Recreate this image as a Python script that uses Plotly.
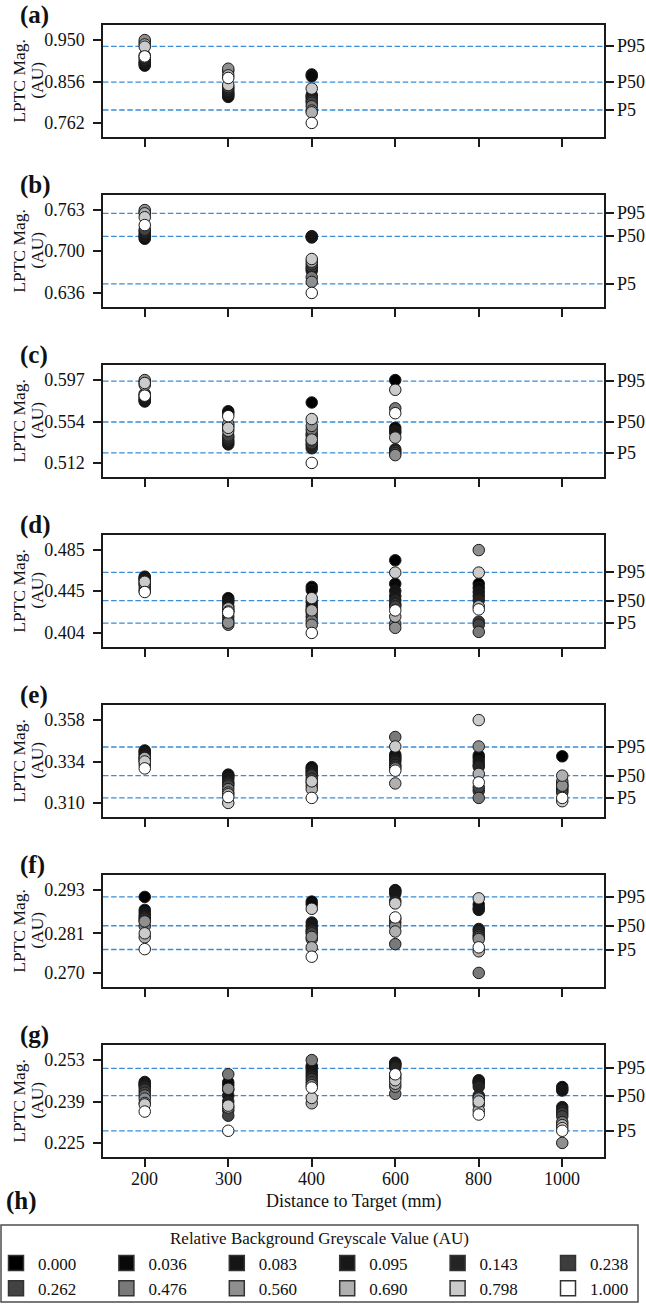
import plotly.graph_objects as go

W, H = 646, 1305

# ---------------- data ----------------
distances = ['200', '300', '400', '600', '800', '1000']
grey_levels = [0.000, 0.036, 0.083, 0.095, 0.143, 0.238,
               0.262, 0.476, 0.560, 0.690, 0.798, 1.000]
panel_letters = ['(a)', '(b)', '(c)', '(d)', '(e)', '(f)', '(g)']

# LPTC magnitude per distance, one value per grey level (order of grey_levels)
mag_a = {
    '200': [0.892, 0.895, 0.898, 0.900, 0.905, 0.910, 0.915, 0.945, 0.950, 0.940, 0.935, 0.913],
    '300': [0.821, 0.824, 0.828, 0.830, 0.835, 0.840, 0.843, 0.880, 0.885, 0.870, 0.848, 0.864],
    '400': [0.872, 0.868, 0.825, 0.822, 0.818, 0.812, 0.808, 0.800, 0.790, 0.786, 0.840, 0.762],
}
mag_b = {
    '200': [0.719, 0.721, 0.723, 0.725, 0.728, 0.731, 0.733, 0.760, 0.763, 0.758, 0.752, 0.740],
    '400': [0.723, 0.722, 0.721, 0.670, 0.673, 0.676, 0.680, 0.660, 0.653, 0.684, 0.688, 0.636],
}
mag_c = {
    '200': [0.575, 0.576, 0.577, 0.578, 0.580, 0.582, 0.583, 0.595, 0.597, 0.592, 0.594, 0.581],
    '300': [0.565, 0.563, 0.531, 0.533, 0.535, 0.538, 0.540, 0.550, 0.552, 0.545, 0.548, 0.560],
    '400': [0.574, 0.540, 0.535, 0.530, 0.527, 0.532, 0.542, 0.546, 0.550, 0.536, 0.557, 0.512],
    '600': [0.597, 0.548, 0.545, 0.543, 0.526, 0.524, 0.522, 0.568, 0.520, 0.538, 0.587, 0.563],
}
mag_d = {
    '200': [0.459, 0.458, 0.457, 0.456, 0.455, 0.452, 0.450, 0.447, 0.445, 0.452, 0.454, 0.444],
    '300': [0.438, 0.436, 0.434, 0.430, 0.426, 0.420, 0.416, 0.412, 0.414, 0.428, 0.425, 0.424],
    '400': [0.449, 0.446, 0.434, 0.430, 0.427, 0.424, 0.420, 0.416, 0.412, 0.426, 0.438, 0.404],
    '600': [0.475, 0.452, 0.445, 0.440, 0.436, 0.432, 0.430, 0.413, 0.409, 0.420, 0.463, 0.426],
    '800': [0.452, 0.448, 0.444, 0.440, 0.436, 0.415, 0.412, 0.405, 0.485, 0.430, 0.463, 0.427],
}
mag_e = {
    '200': [0.3404, 0.3398, 0.3390, 0.3380, 0.3370, 0.3360, 0.3350, 0.3340, 0.3320, 0.3360, 0.3340, 0.3300],
    '300': [0.3264, 0.3260, 0.3250, 0.3240, 0.3220, 0.3210, 0.3200, 0.3180, 0.3160, 0.3150, 0.3100, 0.3134],
    '400': [0.3307, 0.3300, 0.3290, 0.3280, 0.3270, 0.3260, 0.3240, 0.3220, 0.3200, 0.3180, 0.3225, 0.3129],
    '600': [0.3380, 0.3370, 0.3360, 0.3350, 0.3340, 0.3320, 0.3310, 0.3482, 0.3300, 0.3213, 0.3427, 0.3287],
    '800': [0.3375, 0.3360, 0.3340, 0.3320, 0.3310, 0.3170, 0.3190, 0.3129, 0.3427, 0.3268, 0.3580, 0.3219],
    '1000': [0.3370, 0.3210, 0.3200, 0.3190, 0.3180, 0.3170, 0.3160, 0.3225, 0.3200, 0.3258, 0.3110, 0.3129],
}
mag_f = {
    '200': [0.2911, 0.2875, 0.2868, 0.2860, 0.2855, 0.2850, 0.2845, 0.2830, 0.2843, 0.2799, 0.2810, 0.2766],
    '400': [0.2898, 0.2890, 0.2840, 0.2830, 0.2820, 0.2815, 0.2810, 0.2794, 0.2800, 0.2771, 0.2878, 0.2745],
    '600': [0.2930, 0.2928, 0.2925, 0.2920, 0.2900, 0.2850, 0.2840, 0.2780, 0.2830, 0.2815, 0.2893, 0.2854],
    '800': [0.2890, 0.2880, 0.2875, 0.2822, 0.2815, 0.2805, 0.2800, 0.2700, 0.2794, 0.2760, 0.2907, 0.2771],
}
mag_g = {
    '200': [0.2456, 0.2452, 0.2448, 0.2444, 0.2440, 0.2430, 0.2420, 0.2410, 0.2400, 0.2385, 0.2380, 0.2356],
    '300': [0.2455, 0.2445, 0.2430, 0.2410, 0.2390, 0.2360, 0.2342, 0.2482, 0.2433, 0.2370, 0.2376, 0.2291],
    '400': [0.2510, 0.2505, 0.2495, 0.2485, 0.2475, 0.2465, 0.2455, 0.2530, 0.2445, 0.2384, 0.2402, 0.2437],
    '600': [0.2521, 0.2518, 0.2515, 0.2510, 0.2505, 0.2480, 0.2470, 0.2416, 0.2440, 0.2450, 0.2462, 0.2482],
    '800': [0.2462, 0.2458, 0.2455, 0.2451, 0.2440, 0.2410, 0.2405, 0.2380, 0.2400, 0.2360, 0.2390, 0.2346],
    '1000': [0.2439, 0.2432, 0.2427, 0.2371, 0.2360, 0.2350, 0.2340, 0.2320, 0.2250, 0.2310, 0.2300, 0.2291],
}

# y tick values (min, mid, max)
yticks_a = [0.762, 0.856, 0.950]
yticks_b = [0.636, 0.700, 0.763]
yticks_c = [0.512, 0.554, 0.597]
yticks_d = [0.404, 0.445, 0.485]
yticks_e = [0.310, 0.334, 0.358]
yticks_f = [0.270, 0.281, 0.293]
yticks_g = [0.225, 0.239, 0.253]

# percentile lines P5, P50, P95
pct_labels = ['P5', 'P50', 'P95']
pct_a = [0.7913, 0.8545, 0.9357]
pct_b = [0.6500, 0.7226, 0.7580]
pct_c = [0.5223, 0.5540, 0.5960]
pct_d = [0.4135, 0.4356, 0.4632]
pct_e = [0.3129, 0.3258, 0.3424]
pct_f = [0.2765, 0.2831, 0.2911]
pct_g = [0.2291, 0.2410, 0.2502]

panels = [
    (mag_a, yticks_a, pct_a), (mag_b, yticks_b, pct_b), (mag_c, yticks_c, pct_c),
    (mag_d, yticks_d, pct_d), (mag_e, yticks_e, pct_e), (mag_f, yticks_f, pct_f),
    (mag_g, yticks_g, pct_g),
]

# ---------------- geometry / style ----------------
FONT = 'Liberation Serif'
TXT = '#111'
AX = '#1a1a1a'
DASH_COLOR = '#3a8dd6'
X0, X1 = 103, 604
panel_tops = [25, 195, 365, 535, 705, 875, 1045]
PANEL_H = 111.5
PAD_TOP, PAD_BOT = 0.182, 0.164


def grey(v):
    g = int(round(255 * v))
    return f'rgb({g},{g},{g})'


def fnt(size):
    return dict(family=FONT, size=size, color=TXT)


fig = go.Figure()
layout = dict(
    width=W, height=H,
    margin=dict(l=0, r=0, t=0, b=0, autoexpand=False),
    paper_bgcolor='white', plot_bgcolor='white',
    font=fnt(18),
    showlegend=True,
)
shapes, annotations = [], []
n = len(panels)

for i, (mag, yt, pct) in enumerate(panels):
    s = '' if i == 0 else str(i + 1)
    rs = str(i + 1 + n)
    top = panel_tops[i]
    bot = top + PANEL_H
    ydom = [1 - bot / H, 1 - top / H]
    rng = yt[-1] - yt[0]
    yrange = [yt[0] - PAD_BOT * rng, yt[-1] + PAD_TOP * rng]

    for k, gl in enumerate(grey_levels):
        xs = [d for d in distances if d in mag]
        ys = [mag[d][k] for d in xs]
        fig.add_trace(go.Scatter(
            x=xs, y=ys, mode='markers', xaxis='x' + s, yaxis='y' + s,
            marker=dict(size=11.5, color=grey(gl), line=dict(color=AX, width=1)),
            showlegend=False, hoverinfo='skip'))
    # dummy trace for the right-hand percentile axis
    fig.add_trace(go.Scatter(x=[None], y=[None], xaxis='x' + s, yaxis='y' + rs,
                             showlegend=False, hoverinfo='skip'))

    layout['xaxis' + s] = dict(
        domain=[X0 / W, X1 / W], anchor='y' + s, type='category',
        categoryorder='array', categoryarray=distances, range=[-0.5, 5.5],
        showline=True, mirror=True, linecolor=AX, linewidth=1.5,
        ticks='outside', ticklen=9, tickwidth=1.5, tickcolor=AX,
        showticklabels=False, showgrid=False, zeroline=False,
    )
    layout['yaxis' + s] = dict(
        domain=ydom, anchor='x' + s, range=yrange,
        tickvals=yt, ticktext=[f'{v:.3f}' for v in yt],
        showline=True, mirror=True, linecolor=AX, linewidth=1.5,
        ticks='outside', ticklen=8, tickwidth=1.5, tickcolor=AX,
        tickfont=fnt(18), ticklabelstandoff=5,
        showgrid=False, zeroline=False,
    )
    layout['yaxis' + rs] = dict(
        overlaying='y' + s, anchor='x' + s, side='right', range=yrange,
        tickvals=pct, showticklabels=False,
        showline=False, ticks='outside', ticklen=9, tickwidth=1.5, tickcolor=AX,
        showgrid=False, zeroline=False,
    )
    for v, lab in zip(pct, pct_labels):
        shapes.append(dict(type='line', xref='x' + s + ' domain', yref='y' + s,
                           x0=0, x1=1, y0=v, y1=v, layer='below',
                           line=dict(color=DASH_COLOR, width=1.3, dash='5.5px,2.6px')))
        annotations.append(dict(text=lab, xref='paper', yref='y' + s, x=617 / W, y=v,
                                xanchor='left', yanchor='middle', showarrow=False,
                                borderpad=0, borderwidth=0, font=fnt(18)))
    annotations.append(dict(text='<b>' + panel_letters[i] + '</b>', xref='paper', yref='paper',
                            x=19 / W, y=1 - (top - 10) / H, xanchor='left', yanchor='middle',
                            showarrow=False, borderpad=0, font=fnt(25)))
    ymid = 1 - (top + PANEL_H / 2) / H
    annotations.append(dict(text='LPTC Mag.', xref='paper', yref='paper',
                            x=19 / W, y=ymid, xanchor='center', yanchor='middle',
                            textangle=-90, showarrow=False, borderpad=0, font=fnt(17.5)))
    annotations.append(dict(text='(AU)', xref='paper', yref='paper',
                            x=37 / W, y=ymid, xanchor='center', yanchor='middle',
                            textangle=-90, showarrow=False, borderpad=0, font=fnt(17.5)))

# x tick labels under the bottom panel (placed at each category's position)
last_x = 'x' + str(n)
for pos, d in enumerate(distances):
    annotations.append(dict(text=d, xref=last_x, yref='paper', x=pos, y=1 - 1178.5 / H,
                            xanchor='center', yanchor='middle', showarrow=False,
                            borderpad=0, font=fnt(18)))

# x-axis title and (h)
annotations.append(dict(text='Distance to Target (mm)', xref='paper', yref='paper',
                        x=(X0 + X1) / 2 / W, y=1 - 1201 / H, xanchor='center', yanchor='middle',
                        showarrow=False, borderpad=0, font=fnt(18)))
annotations.append(dict(text='<b>(h)</b>', xref='paper', yref='paper',
                        x=5 / W, y=1 - 1201 / H, xanchor='left', yanchor='middle',
                        showarrow=False, borderpad=0, font=fnt(25)))

# legend: frame, title and six columns
shapes.append(dict(type='rect', xref='paper', yref='paper',
                   x0=1 / W, x1=638 / W, y0=1 - 1302 / H, y1=1 - 1225 / H,
                   line=dict(color='#4d4d4d', width=1.5), fillcolor='rgba(0,0,0,0)'))
annotations.append(dict(text='Relative Background Greyscale Value (AU)', xref='paper', yref='paper',
                        x=319 / W, y=1 - 1238 / H, xanchor='center', yanchor='middle',
                        showarrow=False, borderpad=0, font=fnt(17)))

legend_left = [-6, 104.4, 214.8, 325.2, 435.6, 546]
for c in range(6):
    lid = 'legend' if c == 0 else f'legend{c + 1}'
    layout[lid] = dict(x=legend_left[c] / W, y=1 - 1245.5 / H, xanchor='left', yanchor='top',
                       orientation='v', bgcolor='rgba(0,0,0,0)', borderwidth=0,
                       font=fnt(17), itemsizing='trace', itemwidth=34,
                       traceorder='normal', itemclick=False, itemdoubleclick=False)
    for k in (c, c + 6):
        fig.add_trace(go.Scatter(
            x=[None], y=[None], mode='markers', name=f'{grey_levels[k]:.3f}',
            legend=lid, xaxis='x', yaxis='y',
            marker=dict(symbol='square', size=15, color=grey(grey_levels[k]),
                        line=dict(color='#333', width=1.5)),
            showlegend=True, hoverinfo='skip'))

layout['shapes'] = shapes
layout['annotations'] = annotations
fig.update_layout(**layout)
fig.write_html('out.html',
               config={'displayModeBar': False},
               post_script="document.body.style.margin='0';"
                           "document.body.style.padding='0';"
                           "document.body.style.overflow='hidden';")
